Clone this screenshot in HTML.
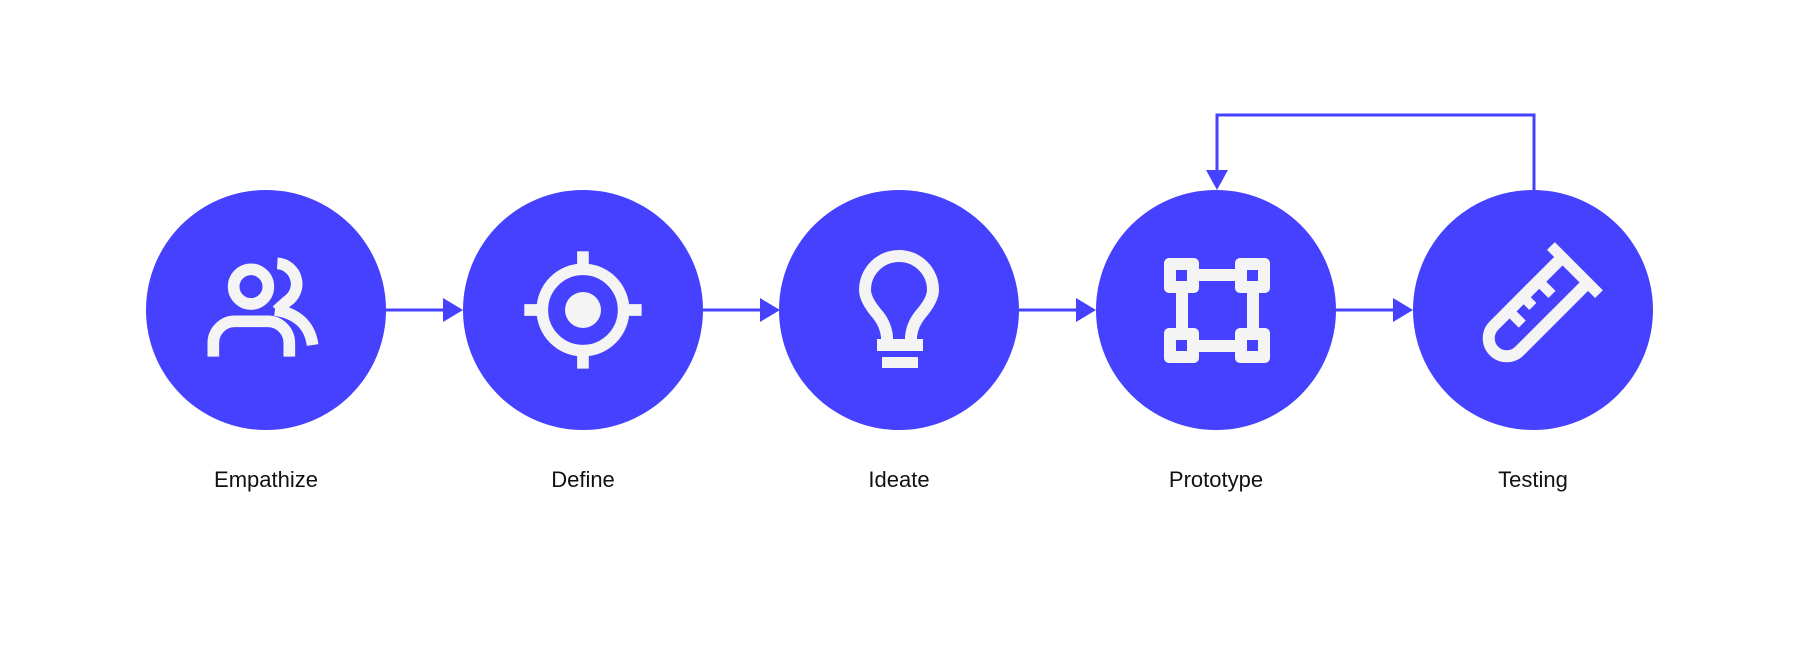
<!DOCTYPE html>
<html><head><meta charset="utf-8"><style>
html,body{margin:0;padding:0;background:#fff;}
svg{display:block}
text{font-family:"Liberation Sans",sans-serif;font-size:22px;fill:#111;}
</style></head><body>
<svg width="1800" height="645" viewBox="0 0 1800 645" xmlns="http://www.w3.org/2000/svg">
<g fill="#4541FF">
<circle cx="266" cy="310" r="120"/>
<circle cx="583" cy="310" r="120"/>
<circle cx="899" cy="310" r="120"/>
<circle cx="1216" cy="310" r="120"/>
<circle cx="1533" cy="310" r="120"/>
</g>
<g stroke="#4541FF" stroke-width="3" fill="none">
<line x1="386" y1="310" x2="446" y2="310"/>
<line x1="703" y1="310" x2="762" y2="310"/>
<line x1="1019" y1="310" x2="1079" y2="310"/>
<line x1="1336" y1="310" x2="1396" y2="310"/>
<polyline points="1534,190 1534,115 1217,115 1217,172"/>
</g>
<g fill="#4541FF">
<polygon points="443,298 463,310 443,322"/>
<polygon points="760,298 780,310 760,322"/>
<polygon points="1076,298 1096,310 1076,322"/>
<polygon points="1393,298 1413,310 1393,322"/>
<polygon points="1206,170 1228,170 1217,190"/>
</g>
<g transform="translate(140,180) scale(0.3333)" fill="none" stroke="#F4F4F4" stroke-width="35">
<circle cx="333" cy="320" r="52"/>
<path d="M220 530 V490 A65 65 0 0 1 285 424 H383 A65 65 0 0 1 448 490 V530"/>
<path d="M412 250 A62 62 0 0 1 440 365 L410 392"/>
<path d="M405 390 Q505 405 518 495"/>
<circle cx="1329" cy="390" r="122"/>
<line x1="1329" y1="214" x2="1329" y2="270"/>
<line x1="1329" y1="510" x2="1329" y2="566"/>
<line x1="1153" y1="390" x2="1208" y2="390"/>
<line x1="1450" y1="390" x2="1505" y2="390"/>
</g>
<circle cx="583" cy="310" r="18" fill="#F4F4F4"/>
<g fill="none" stroke="#F4F4F4" stroke-width="12">
<path d="M887 345 V337 Q886 325 878 315 Q865 300 865 290 A34 34 0 1 1 933 290 Q933 300 920 315 Q912 325 911 337 V345"/>
</g>
<rect x="877" y="339" width="46" height="12" fill="#F4F4F4"/>
<rect x="882" y="357" width="36" height="11" fill="#F4F4F4"/>
<g fill="#F4F4F4">
<rect x="1164" y="258" width="35" height="35" rx="5"/>
<rect x="1235" y="258" width="35" height="35" rx="5"/>
<rect x="1164" y="328" width="35" height="35" rx="5"/>
<rect x="1235" y="328" width="35" height="35" rx="5"/>
<rect x="1199" y="269" width="36" height="12"/>
<rect x="1199" y="340" width="36" height="12"/>
<rect x="1176" y="293" width="12" height="35"/>
<rect x="1247" y="293" width="12" height="35"/>
</g>
<g fill="#4541FF">
<rect x="1176" y="270" width="11" height="11"/>
<rect x="1247" y="270" width="11" height="11"/>
<rect x="1176" y="340" width="11" height="11"/>
<rect x="1247" y="340" width="11" height="11"/>
</g>
<g transform="translate(1535,310) rotate(45)">
<path d="M-18 -52 V40 A18 18 0 0 0 18 40 V-52" fill="none" stroke="#F4F4F4" stroke-width="12"/>
<rect x="-34" y="-62" width="68" height="11" fill="#F4F4F4"/>
<rect x="-13" y="-28" width="14" height="10" fill="#F4F4F4"/>
<rect x="-13" y="-6" width="9" height="10" fill="#F4F4F4"/>
<rect x="-13" y="14" width="14" height="10" fill="#F4F4F4"/>
</g>
<text x="266" y="487" text-anchor="middle">Empathize</text>
<text x="583" y="487" text-anchor="middle">Define</text>
<text x="899" y="487" text-anchor="middle">Ideate</text>
<text x="1216" y="487" text-anchor="middle">Prototype</text>
<text x="1533" y="487" text-anchor="middle">Testing</text>
</svg>
</body></html>
